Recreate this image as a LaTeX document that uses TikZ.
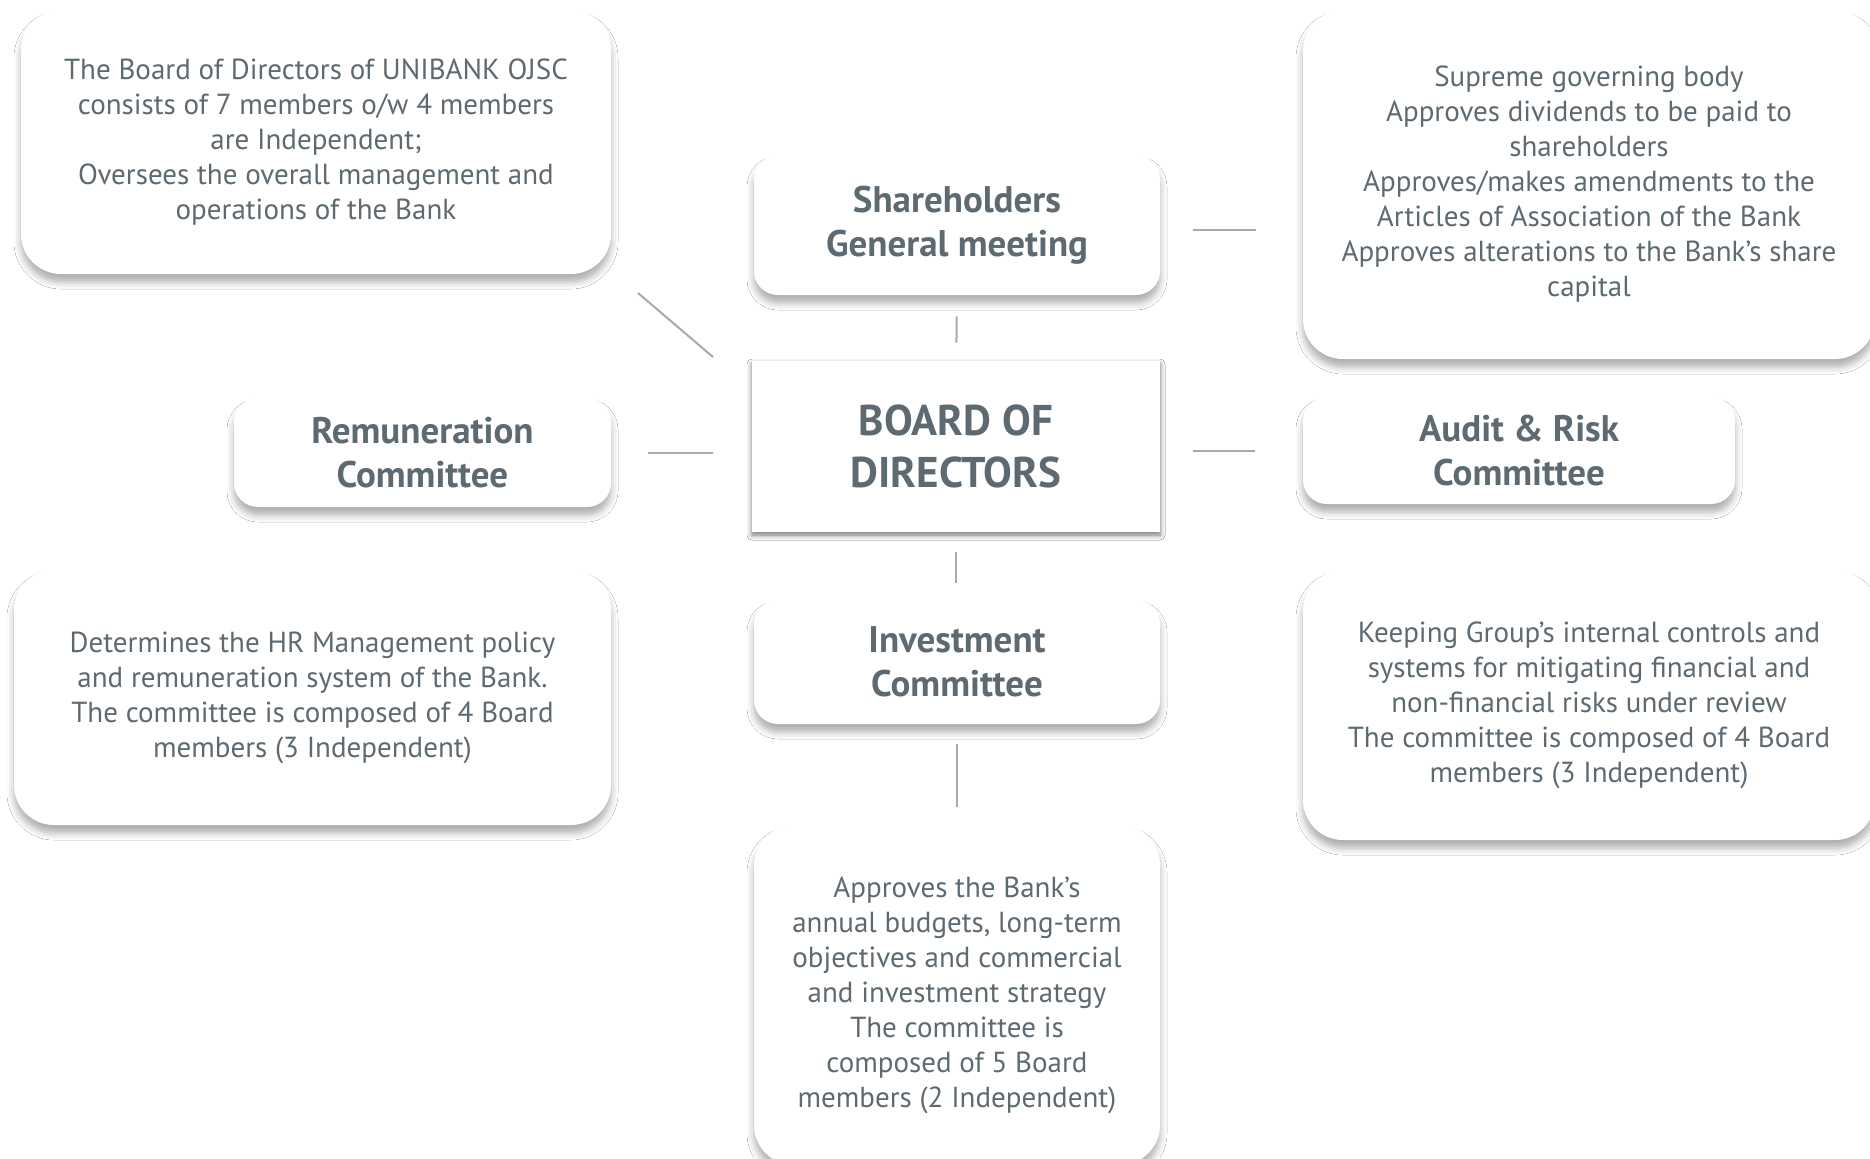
\documentclass[tikz,border=0pt]{standalone}
\usepackage{fontspec}
\setmainfont{PT Sans}
\usetikzlibrary{shadows.blur}
\definecolor{txtgray}{HTML}{5E6A72}
\definecolor{linegray}{HTML}{A3ABB0}
\tikzset{
  card/.style={fill=white, rounded corners=20pt, align=center, text=txtgray, inner sep=0pt,
    font=\fontsize{14.5}{17.5}\selectfont,
    blur shadow={shadow xshift=0pt, shadow yshift=-4pt, shadow blur radius=3.5pt, shadow opacity=32}},
  titlebox/.style={card, rounded corners=12pt, font=\bfseries\fontsize{18.5}{22}\selectfont},
  link/.style={draw=linegray, line width=1pt}
}

\begin{document}
\begin{tikzpicture}[x=0.5pt, y=-0.5pt]
\fill[white] (0,0) rectangle (1870,1158);
\useasboundingbox (0,0) rectangle (1870,1158);

\node[card, minimum width=295pt, minimum height=132pt] (bodtxt) at (316,142)
  {The Board of Directors of UNIBANK OJSC\\consists of 7 members o/w 4 members\\are Independent;\\Oversees the overall management and\\operations of the Bank};
\node[titlebox, minimum width=203pt, minimum height=70pt] (sgm) at (957,225)
  {Shareholders\\General meeting};
\node[card, minimum width=286pt, minimum height=174.5pt] (sgmtxt) at (1589,184.5)
  {Supreme governing body\\Approves dividends to be paid to\\shareholders\\Approves/makes amendments to the\\Articles of Association of the Bank\\Approves alterations to the Bank’s share\\capital};
\node[titlebox, minimum width=188.5pt, minimum height=54.5pt] (rem) at (422.5,452.5)
  {Remuneration\\Committee};
\node[titlebox, rounded corners=0pt, minimum width=204pt, minimum height=85.5pt,
  font=\bfseries\fontsize{21.5}{25.6}\selectfont,
  blur shadow={shadow xshift=0pt, shadow yshift=-1.5pt, shadow blur radius=2.5pt, shadow opacity=30}] (bod) at (956,446.5)
  {BOARD OF\\DIRECTORS};
\node[titlebox, minimum width=216pt, minimum height=53.5pt] (audit) at (1519,450.5)
  {Audit \& Risk\\Committee};
\node[card, minimum width=298.5pt, minimum height=127.5pt] (remtxt) at (312.5,697.5)
  {Determines the HR Management policy\\and remuneration system of the Bank.\\The committee is composed of 4 Board\\members (3 Independent)};
\node[titlebox, minimum width=203pt, minimum height=62pt] (inv) at (957,662)
  {Investment\\Committee};
\node[card, minimum width=286pt, minimum height=135pt] (audittxt) at (1589,705)
  {Keeping Group’s internal controls and\\systems for mitigating financial and\\non-financial risks under review\\The committee is composed of 4 Board\\members (3 Independent)};
\node[card, minimum width=203pt, minimum height=170pt] (invtxt) at (957,995)
  {Approves the Bank’s\\annual budgets, long-term\\objectives and commercial\\and investment strategy\\The committee is\\composed of 5 Board\\members (2 Independent)};

\coordinate (dg1) at (638,293);
\coordinate (dg2) at (713,357);

\draw[link] (dg1) -- (dg2);
\draw[link, shorten <=10.5pt, shorten >=9pt] (sgm) -- (bod);
\draw[link, shorten <=16.5pt, shorten >=23.5pt] ([yshift=-2.5pt]sgm.east) -- ([yshift=-2.5pt]sgm.east -| sgmtxt.west);
\draw[link, shorten <=18.5pt, shorten >=19.5pt] (rem.east) -- (rem.east -| bod.west);
\draw[link, shorten <=16.5pt, shorten >=24pt] (audit.west -| bod.east) -- (audit.west);
\draw[link, shorten <=10pt, shorten >=8.5pt] (bod) -- (bod |- inv.north);
\draw[link, shorten <=10pt, shorten >=9pt] (inv) -- (inv |- invtxt.north);
\end{tikzpicture}
\end{document}
